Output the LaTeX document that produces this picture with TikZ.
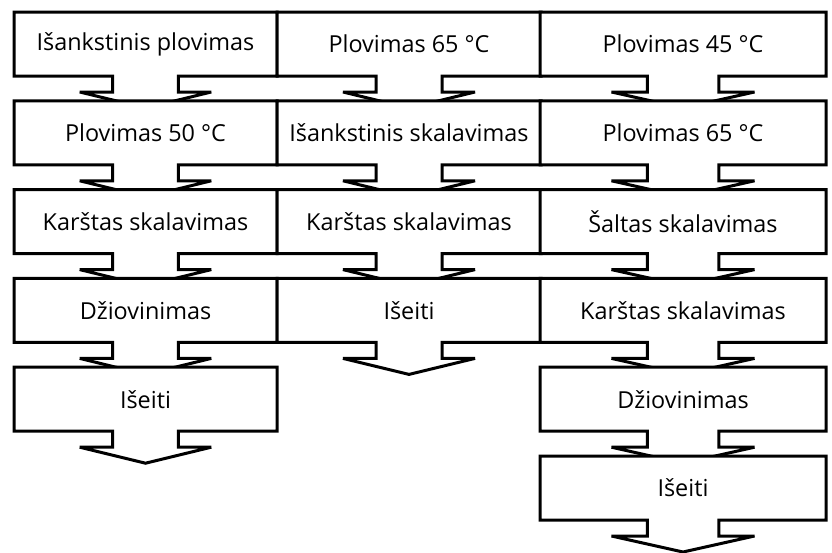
\documentclass[tikz,border=0pt]{standalone}
\usepackage{fontspec}
\usetikzlibrary{positioning,calc,backgrounds}
\newfontfamily\stepfont{Open Sans}

% Box outline with a hollow arrow hanging from its bottom edge.
\newcommand\stepoutline[1]{%
  \draw[outline] let \p1=(#1.south west), \p2=(#1.south east),
      \n1={(\x2-\x1)/8}, \n2={(\x2-\x1)/4} in
    (#1.north west) -- (#1.north east) -- (#1.south east)
    -- ($(#1.south)+(\n1,0pt)$) -- ($(#1.south)+(\n1,-16pt)$)
    -- ($(#1.south)+(\n2,-16pt)$) -- ($(#1.south)+(0pt,-32pt)$)
    -- ($(#1.south)+(-\n2,-16pt)$) -- ($(#1.south)+(-\n1,-16pt)$)
    -- ($(#1.south)+(-\n1,0pt)$) -- (#1.south west) -- cycle;}

\begin{document}
\begin{tikzpicture}[
  x=1pt, y=-1pt,
  stepbox/.style={rectangle, minimum width=#1, minimum height=64pt,
                  inner sep=0pt, outer sep=0pt,
                  font=\stepfont\fontsize{23.4}{28}\selectfont},
  outline/.style={draw=black, fill=white, line width=3pt, miter limit=4},
  node distance=24.8pt,
]
  \useasboundingbox (0,0) rectangle (832,552);

  % Column one.
  \node[stepbox=263pt] (a1) at (145.5,44) {Išankstinis plovimas};
  \node[stepbox=263pt, below=of a1] (a2) {Plovimas 50 °C};
  \node[stepbox=263pt, below=of a2] (a3) {Karštas skalavimas};
  \node[stepbox=263pt, below=of a3] (a4) {Džiovinimas};
  \node[stepbox=263pt, below=of a4] (a5) {Išeiti};

  % Column two.
  \node[stepbox=264pt] (b1) at (409,44) {Plovimas 65 °C};
  \node[stepbox=264pt, below=of b1] (b2) {Išankstinis skalavimas};
  \node[stepbox=264pt, below=of b2] (b3) {Karštas skalavimas};
  \node[stepbox=264pt, below=of b3] (b4) {Išeiti};

  % Column three.
  \node[stepbox=286pt] (c1) at (683,44) {Plovimas 45 °C};
  \node[stepbox=286pt, below=of c1] (c2) {Plovimas 65 °C};
  \node[stepbox=286pt, below=of c2] (c3) {Šaltas skalavimas};
  \node[stepbox=286pt, below=of c3] (c4) {Karštas skalavimas};
  \node[stepbox=286pt, below=of c4] (c5) {Džiovinimas};
  \node[stepbox=286pt, below=of c5] (c6) {Išeiti};

  % Outlines go underneath; each box hides the tip of the one above.
  \begin{scope}[on background layer]
    \foreach \blk in {a1,a2,a3,a4,a5,b1,b2,b3,b4,c1,c2,c3,c4,c5,c6}
      { \stepoutline{\blk} }
  \end{scope}
\end{tikzpicture}
\end{document}
